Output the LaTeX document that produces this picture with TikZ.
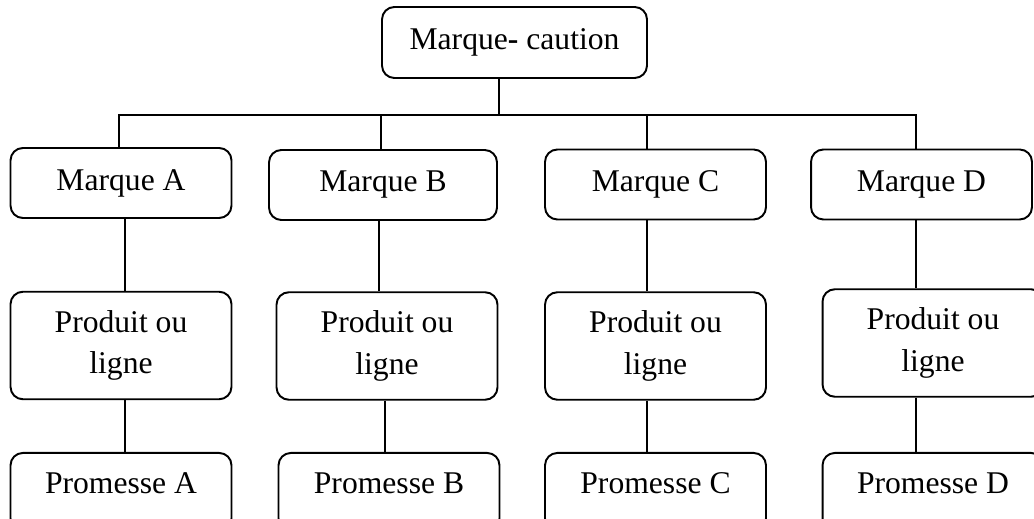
\documentclass[tikz,border=0pt]{standalone}
\usepackage{fontspec}
\setmainfont{Liberation Serif}

\begin{document}
\begin{tikzpicture}[x=0.02cm, y=-0.02cm,
		boite/.style={draw, line width=1.1pt, rounded corners=7pt, inner sep=0pt,
			font=\fontsize{18}{23.8}\selectfont, align=center},
		marque/.style={boite, minimum width=4.42cm, minimum height=1.4cm},
		produit/.style={boite, minimum width=4.42cm, minimum height=2.15cm},
		promesse/.style={boite, minimum width=4.42cm, anchor=north,
			text height=0.82cm, text depth=0.74cm},
		lien/.style={line width=1pt}]
		\useasboundingbox (0,0) rectangle (1034,519);
		\clip (0,0) rectangle (1034,519);

		% Top box.
		\node[boite, minimum width=5.3cm, minimum height=1.42cm] (caution) at (514.5,42.5) {Marque\textbf{-} caution};

		% Brands.
		\node[marque] (ma) at (121,183) {Marque A};
		\node[marque, minimum width=4.56cm] (mb) at (383,185) {Marque B};
		\node[marque] (mc) at (655.5,184.5) {Marque C};
		\node[marque] (md) at (921.5,184.5) {Marque D};

		% Products.
		\node[produit] (pa) at (121,345.5) {Produit ou\\ligne};
		\node[produit] (pb) at (387,346) {Produit ou\\ligne};
		\node[produit] (pc) at (655.5,346) {Produit ou\\ligne};
		\node[produit] (pd) at (933,343) {Produit ou\\ligne};

		% Promises.
		\node[promesse] (ra) at (121,452) {Promesse A};
		\node[promesse] (rb) at (389,452) {Promesse B};
		\node[promesse] (rc) at (655.5,452) {Promesse C};
		\node[promesse] (rd) at (933,452) {Promesse D};

		% Bus.
		\coordinate (bus)  at (499,115);
		\coordinate (busA) at (119,115);
		\coordinate (busB) at (381,115);
		\coordinate (busC) at (647,115);
		\coordinate (busD) at (916,115);
		\draw[lien] (caution.south -| bus) -- (bus);
		\draw[lien] (ma.north -| busA) -- (busA) -- (busD) -- (md.north -| busD);
		\draw[lien] (busB) -- (mb.north -| busB);
		\draw[lien] (busC) -- (mc.north -| busC);

		% Brand to product.
		\draw[lien] (ma.south -| 125,0) -- (pa.north -| 125,0);
		\draw[lien] (mb.south -| 379,0) -- (pb.north -| 379,0);
		\draw[lien] (mc.south -| 647,0) -- (pc.north -| 647,0);
		\draw[lien] (md.south -| 916,0) -- (pd.north -| 916,0);

		% Product to promise.
		\draw[lien] (pa.south -| 125,0) -- (ra.north -| 125,0);
		\draw[lien] (pb.south -| 385,0) -- (rb.north -| 385,0);
		\draw[lien] (pc.south -| 647,0) -- (rc.north -| 647,0);
		\draw[lien] (pd.south -| 916,0) -- (rd.north -| 916,0);

	\end{tikzpicture}
\end{document}
